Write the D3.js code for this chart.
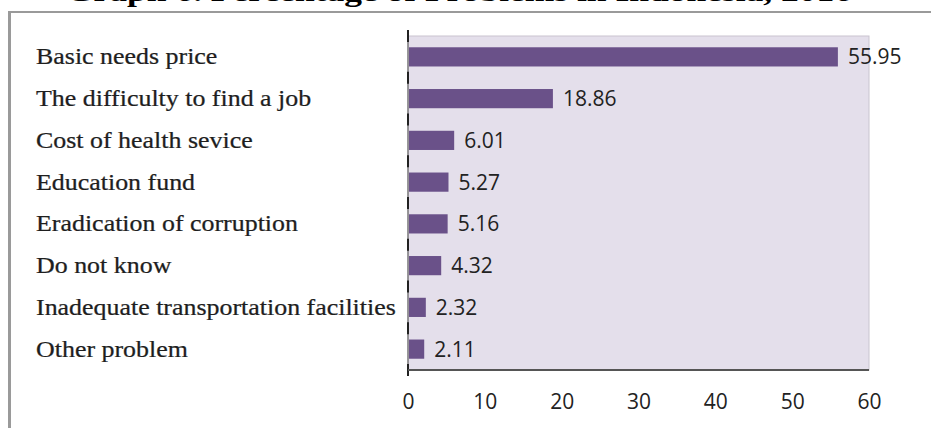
<!DOCTYPE html>
<html><head><meta charset="utf-8">
<script src="https://cdn.jsdelivr.net/npm/d3@7/dist/d3.min.js"></script>
<style>body{margin:0;background:#fff}svg{display:block}</style>
</head><body>
<svg id="c" width="931" height="428"></svg>
<script>
const categories = ["Basic needs price","The difficulty to find a job","Cost of health sevice","Education fund","Eradication of corruption","Do not know","Inadequate transportation facilities","Other problem"];
const values = [55.95,18.86,6.01,5.27,5.16,4.32,2.32,2.11];
const xTicks = [0,10,20,30,40,50,60];
const titleText = "Graph 6. Percentage of Problems in Indonesia, 2016";

const svg = d3.select("#c");
// title (clipped at the top, as in the source)
svg.append("text").attr("x",66).attr("y",1).attr("font-family","Liberation Serif").attr("font-weight","bold")
  .attr("font-size",28).attr("textLength",786).attr("lengthAdjust","spacingAndGlyphs").attr("fill","#000").text(titleText);
// frame
svg.append("rect").attr("x",0).attr("y",11).attr("width",931).attr("height",417).attr("fill","#fff");
svg.append("line").attr("x1",8).attr("x2",931).attr("y1",12).attr("y2",12).attr("stroke","#9a9a9a").attr("stroke-width",2);
svg.append("line").attr("x1",9.5).attr("x2",9.5).attr("y1",11).attr("y2",428).attr("stroke","#9a9a9a").attr("stroke-width",3);

const L=408,R=869,T=36,B=370;
const x = d3.scaleLinear().domain([0,60]).range([L,R]);
const y = d3.scaleBand().domain(categories).range([T,B]).paddingInner(0.54).paddingOuter(0.27);

svg.append("rect").attr("x",L).attr("y",T).attr("width",R-L).attr("height",B-T).attr("fill","#e4dfeb").attr("stroke","#c9c4cf").attr("stroke-width",1);

svg.selectAll("rect.bar").data(values).join("rect").attr("class","bar")
  .attr("x",x(0)+1).attr("y",(d,i)=>y(categories[i])).attr("width",d=>x(d)-x(0)-1).attr("height",y.bandwidth())
  .attr("fill","#6a5189");

svg.selectAll("text.val").data(values).join("text").attr("class","val")
  .attr("x",d=>x(d)+10).attr("y",(d,i)=>y(categories[i])+y.bandwidth()/2).attr("dy","0.36em")
  .attr("font-family","Open Sans").attr("font-size",21).attr("fill","#222").text(d=>d.toFixed(2));

const catG = svg.append("g").attr("transform","translate(36,0) scale(1.127,1)");
catG.selectAll("text.cat").data(categories).join("text").attr("class","cat")
  .attr("x",0).attr("y",d=>y(d)+y.bandwidth()/2).attr("dy","0.33em")
  .attr("font-family","Liberation Serif").attr("font-size",23).attr("fill","#1e1e1e")
  .attr("stroke","#1e1e1e").attr("stroke-width",0.25).text(d=>d);

// axes
const step = y.step();
svg.append("line").attr("x1",L).attr("x2",L).attr("y1",T).attr("y2",B).attr("stroke","#666").attr("stroke-width",1.2);
svg.selectAll("line.tk").data(d3.range(categories.length+1)).join("line").attr("class","tk")
  .attr("x1",L).attr("x2",L).attr("y1",i=>T+i*step-6).attr("y2",i=>T+i*step+6).attr("stroke","#222").attr("stroke-width",2);
svg.append("line").attr("x1",L).attr("x2",R).attr("y1",B).attr("y2",B).attr("stroke","#555").attr("stroke-width",2);

const xa = svg.append("g").attr("transform",`translate(0,${B})`)
  .call(d3.axisBottom(x).tickValues(xTicks).tickSize(0).tickPadding(24));
xa.select(".domain").remove();
xa.selectAll("text").attr("font-family","Open Sans").attr("font-size",21).attr("fill","#222");
</script>
</body></html>
